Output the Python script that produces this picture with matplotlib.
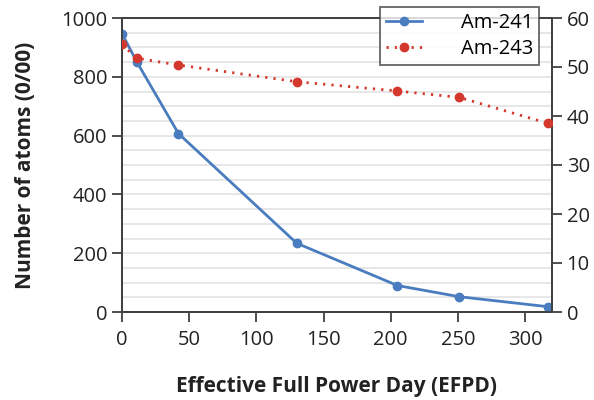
import matplotlib
matplotlib.use('Agg')
import matplotlib.pyplot as plt
import numpy as np

plt.rcParams['font.family'] = ['Open Sans', 'DejaVu Sans']

# data
efpd = [0, 11, 42, 130, 205, 251, 317]
am241 = [947, 851, 607, 234, 90, 52, 18]       # left axis
am243 = [54.6, 51.8, 50.4, 47.0, 45.1, 43.8, 38.5]  # right axis

blue = '#4a7dbf'
red = '#d4372c'
spine = '#404040'

fig = plt.figure(figsize=(5.94, 4.0), dpi=100)
ax = fig.add_axes([122/594, 88/400, 430/594, 294/400])
ax2 = ax.twinx()

# light horizontal grid every 50
for g in np.arange(50, 1000, 50):
    ax.axhline(g, color='#e3e3e3', lw=1.2, zorder=0)

l1, = ax.plot(efpd, am241, '-o', color=blue, lw=2, ms=6, label='Am-241', zorder=3)
l2, = ax2.plot(efpd, am243, 'o', color=red, ls=(0, (0.8, 2.2)), lw=2, ms=6,
               label='Am-243', zorder=3)

ax.set_xlim(0, 320)
ax.set_ylim(0, 1000)
ax2.set_ylim(0, 60)
ax.set_xticks([0, 50, 100, 150, 200, 250, 300])
ax.set_yticks([0, 200, 400, 600, 800, 1000])
ax2.set_yticks([0, 10, 20, 30, 40, 50, 60])

for a in (ax, ax2):
    for s in a.spines.values():
        s.set_color(spine)
        s.set_linewidth(1.3)
    a.tick_params(colors=spine, labelcolor='#222222', labelsize=14.5,
                  length=7, width=1.3, direction='out')
ax.tick_params(axis='x', pad=6)

ax.set_xlabel('Effective Full Power Day (EFPD)', fontsize=15, fontweight='bold',
              labelpad=19, color='#222222')
ax.set_ylabel('Number of atoms (0/00)', fontsize=15, fontweight='bold',
              labelpad=18, color='#222222')

leg = ax2.legend([l1, l2], ['Am-241', 'Am-243'], loc='upper right',
                 bbox_to_anchor=(0.97, 1.037), borderaxespad=0,
                 fontsize=14.5, frameon=True,
                 fancybox=False, edgecolor=spine, handlelength=1.8,
                 handletextpad=1.9, borderpad=0.3, labelspacing=0.3)
leg.get_frame().set_linewidth(1.3)
leg.set_zorder(10)

fig.savefig('out.png', dpi=100)
